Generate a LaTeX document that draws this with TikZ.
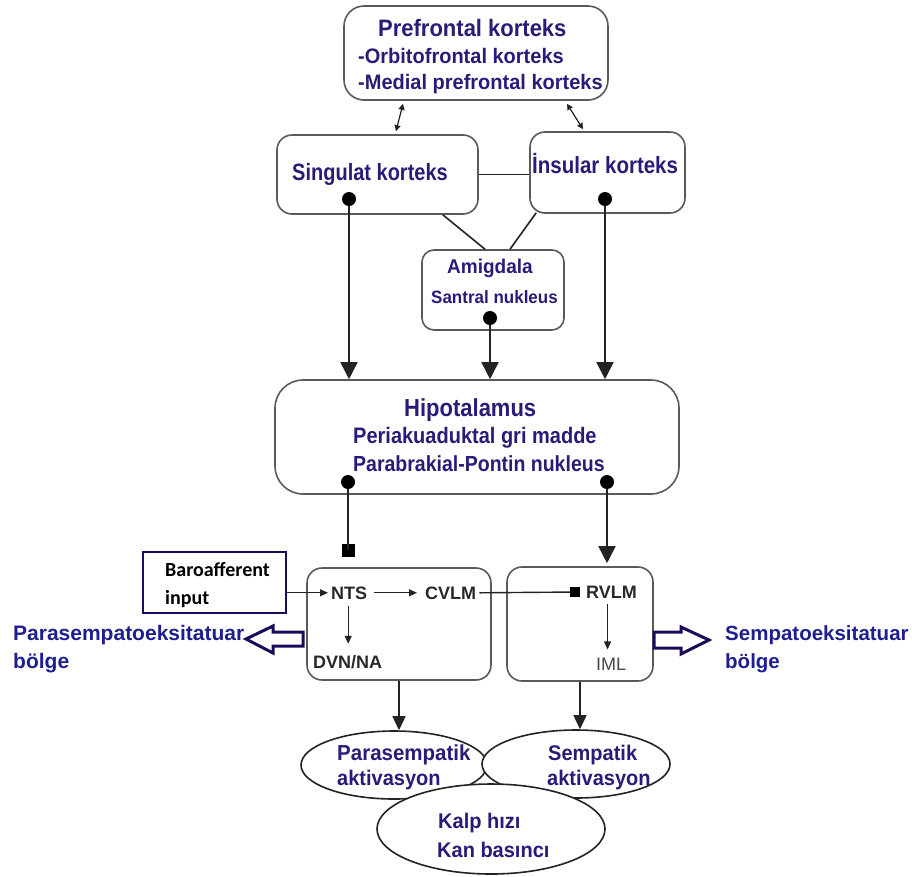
\documentclass[tikz,border=0pt]{standalone}
\usepackage{fontspec}
\setmainfont{Liberation Sans}
\newfontfamily\calib{Carlito}
\usetikzlibrary{arrows.meta,shapes.geometric,calc}
\definecolor{ink}{RGB}{44,26,120}
\definecolor{lblue}{RGB}{30,30,145}
\definecolor{navy}{RGB}{30,10,90}
\definecolor{boxgray}{RGB}{90,90,90}
\definecolor{linegray}{RGB}{35,35,35}
\definecolor{darktext}{RGB}{40,40,40}
\newcommand\myfs[1]{\fontsize{#1}{#1}\selectfont}
\newcommand\vst[2]{\scalebox{1}[#1]{#2}}
\begin{document}
\begin{tikzpicture}[x=1pt,y=-1pt,
  box/.style={draw=boxgray,line width=1.6pt,rounded corners=#1,inner sep=0pt},
  box/.default=15pt,
  lbl/.style={inner sep=0pt,anchor=base west,text=ink,font=\bfseries\myfs{#1}},
  dlbl/.style={inner sep=0pt,anchor=base west,text=darktext,font=\bfseries\myfs{#1}},
  blbl/.style={inner sep=0pt,anchor=base west,text=lblue,font=\bfseries\myfs{#1}},
  dot/.style={circle,fill=black,inner sep=0pt,minimum size=14pt},
  sqr/.style={rectangle,fill=black,inner sep=0pt,minimum size=#1},
  conn/.style={draw=linegray,line width=1.6pt},
  bigarrow/.style={conn,-{Triangle[length=17pt,width=17pt]}},
  midarrow/.style={conn,-{Triangle[length=14pt,width=13pt]}},
  smallarrow/.style={conn,line width=1.2pt,-{Triangle[length=8pt,width=7pt]}},
  dblarrow/.style={conn,line width=1.2pt,{Triangle[length=6pt,width=6pt]}-{Triangle[length=6pt,width=6pt]}},
  ell/.style={ellipse,draw=linegray,line width=1.6pt,fill=white,inner sep=0pt},
  hollow/.style={draw=navy,line width=3pt,line join=miter,fill=white}
]
\useasboundingbox (0,0) rectangle (912,876);

% boxes
\node[box=20pt,minimum width=264pt,minimum height=94pt] (pfc) at (476,53) {};
\node[box,minimum width=201pt,minimum height=79pt] (sing) at (377.5,174.5) {};
\node[box,minimum width=155pt,minimum height=81pt] (ins) at (607.5,172.5) {};
\node[box=12pt,minimum width=142pt,minimum height=80pt] (amig) at (493,290) {};
\node[box=28pt,minimum width=404pt,minimum height=114pt] (hypo) at (477,437) {};
\node[box,minimum width=184pt,minimum height=112pt] (lbox) at (399,624) {};
\node[box,minimum width=146pt,minimum height=114pt] (rbox) at (580,624) {};
\node[draw=navy,line width=1.5pt,inner sep=0pt,minimum width=143pt,minimum height=61pt] (baro) at (214.5,582.5) {};

% dots and squares
\node[dot] (sdot) at (349,199) {};
\node[dot] (idot) at (605,199) {};
\node[dot] (adot) at (490,318) {};
\node[dot] (hdl) at (348,482) {};
\node[dot] (hdr) at (607,482) {};
\node[sqr=13pt] (sq1) at (348,550) {};
\node[sqr=10pt] (sq2) at (575,592) {};

% texts
\node[lbl=22] (tpfc) at (378,36) {\vst{1.08}{Prefrontal korteks}};
\node[lbl=20] (torb) at (358,63) {\vst{1.05}{-Orbitofrontal korteks}};
\node[lbl=20] (tmed) at (358,89) {\vst{1.05}{-Medial prefrontal korteks}};
\node[lbl=20] (tsing) at (292,180) {\vst{1.18}{Singulat korteks}};
\node[lbl=20.5] (tins) at (532,173) {\vst{1.15}{İnsular korteks}};
\node[lbl=19] (tamig) at (447,273) {\vst{1.05}{Amigdala}};
\node[lbl=17] (tsan) at (431,303) {\vst{1.05}{Santral nukleus}};
\node[lbl=22] (thyp) at (404,416) {\vst{1.12}{Hipotalamus}};
\node[lbl=20] (tper) at (353,443) {\vst{1.12}{Periakuaduktal gri madde}};
\node[lbl=19.5] (tpar) at (353,471) {\vst{1.12}{Parabrakial-Pontin nukleus}};
\node[dlbl=18] (nts) at (331,599) {NTS};
\node[dlbl=18] (cvlm) at (425,599) {CVLM};
\node[dlbl=18] (rvlm) at (586,598) {RVLM};
\node[dlbl=18] (dvn) at (313,668) {DVN/NA};
\node[inner sep=0pt,anchor=base west,text=darktext!85,font=\myfs{18}] (iml) at (596,670) {IML};
\node[inner sep=0pt,anchor=base west,text=black,font=\calib\bfseries\myfs{20}] (tbaro1) at (165,576) {Baroafferent};
\node[inner sep=0pt,anchor=base west,text=black,font=\calib\bfseries\myfs{20}] (tbaro2) at (165,604) {input};
\node[blbl=21] (tpse1) at (13,640) {Parasempatoeksitatuar};
\node[blbl=21] (tpse2) at (13,668) {bölge};
\node[blbl=20.5] (tse1) at (725,640) {Sempatoeksitatuar};
\node[blbl=20.5] (tse2) at (725,668) {bölge};

% connectors top
\draw[dblarrow] ($(pfc.south)+(-73,3)$) -- ($(sing.north)+(18.5,-3)$);
\draw[dblarrow] ($(pfc.south)+(91,3)$) -- ($(ins.north)+(-24.5,-2)$);
\draw[conn] (sing.east) -- (sing.east -| ins.west);
\draw[conn] ($(sing.south east)+(-36,0)$) -- ($(amig.north)+(-8,0)$);
\draw[conn] ($(ins.south west)+(7,-1)$) -- ($(amig.north)+(17,0)$);
\draw[bigarrow] (sdot) -- (sdot |- hypo.north);
\draw[bigarrow] (idot) -- (idot |- hypo.north);
\draw[bigarrow] (adot) -- (adot |- hypo.north);
\draw[conn] (hdl) -- (hdl |- sq1);
\draw[bigarrow] (hdr) -- ($(hdr |- rbox.north)+(0,-3)$);

% inner connectors
\draw[smallarrow] (baro.east |- nts.west) -- ([xshift=-3pt]nts.west);
\draw[smallarrow] ([xshift=7pt]nts.east) -- ([xshift=-8pt]cvlm.west);
\draw[smallarrow] ([xshift=-1pt,yshift=-7pt]nts.south) -- ([xshift=-1pt,yshift=11pt]nts.south |- dvn.north);
\draw[conn,line width=1.4pt] ([xshift=3pt]cvlm.east) -- (sq2);
\draw[smallarrow] ([xshift=-4pt,yshift=-6pt]rvlm.south) -- ([xshift=-4pt,yshift=8pt]rvlm.south |- iml.north);

% hollow arrows
\draw[hollow] (303,632) -- (273,632) -- (273,626) -- (246,639) -- (273,653) -- (273,646) -- (303,646) -- cycle;
\draw[hollow] (654,632) -- (681,632) -- (681,627) -- (709,640) -- (681,654) -- (681,648) -- (654,648) -- cycle;

% ellipses
\node[ell,minimum width=186pt,minimum height=68pt] (para) at (394,765) {};
\node[ell,minimum width=188pt,minimum height=68pt] (semp) at (576,764) {};
\node[ell,minimum width=228pt,minimum height=90pt] (kalp) at (491,829) {};
\draw[midarrow] (lbox.south) -- (lbox.south |- para.north);
\draw[midarrow] (rbox.south) -- (rbox.south |- semp.north);

\node[lbl=20.5] (tpara1) at (337,760) {\vst{1.06}{Parasempatik}};
\node[lbl=20] (tpara2) at (337,785) {\vst{1.06}{aktivasyon}};
\node[lbl=20] (tsemp1) at (548,760) {\vst{1.06}{Sempatik}};
\node[lbl=20] (tsemp2) at (547,785) {\vst{1.06}{aktivasyon}};
\node[lbl=20] (tkalp1) at (438,828) {\vst{1.06}{Kalp hızı}};
\node[lbl=20] (tkalp2) at (437,857) {\vst{1.06}{Kan basıncı}};
\end{tikzpicture}
\end{document}
